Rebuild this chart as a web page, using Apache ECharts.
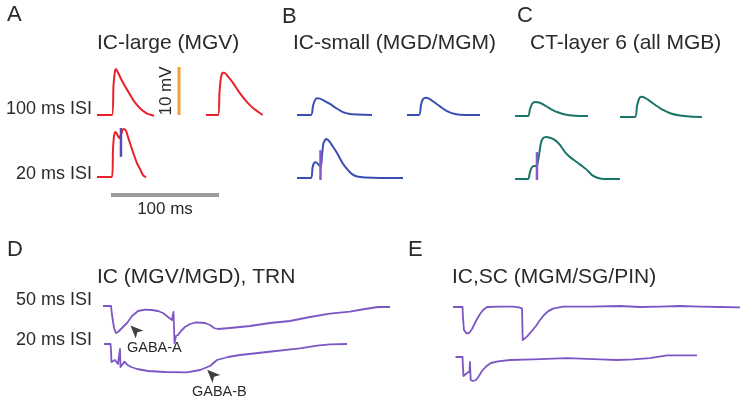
<!DOCTYPE html>
<html>
<head>
<meta charset="utf-8">
<script src="https://cdn.jsdelivr.net/npm/echarts@6/dist/echarts.min.js"></script>
<style>
html,body{margin:0;padding:0;background:#fff;}
#chart{width:750px;height:406px;}
</style>
</head>
<body>
<div id="chart"></div>
<script>
// ---------- DATA: [time (ms), voltage (mV)] ----------
// Panel A: IC-large (MGV)
const aIsi100First  = [[-13.9,0],[0,0],[1.4,6.2],[2.8,9.2],[3.7,9.6],[5.8,8.7],[10.5,6.6],[15.1,4.85],[19.7,3.1],[25.9,1.4],[32.1,0.35],[38.9,-0.15]];
const aIsi100Second = [[-11.1,0],[0,0],[1.4,4.8],[2.8,7.9],[4.6,8.8],[6.0,8.8],[8.6,8.2],[14.2,6.6],[20.4,4.5],[26.5,2.8],[32.7,1.4],[41.4,0]];
const aIsi20        = [[-13.9,0],[0,0],[0.9,5.6],[1.9,8.5],[3.2,9.4],[4.6,9.0],[6.5,8.1],[8.3,8.75],[9.7,9.8],[11.1,10],[13,9.6],[15.7,7.7],[19.4,5.2],[23.1,2.9],[25.9,1.7],[28.7,0.4],[31.5,-0.1]];
const aStim20       = [[8.3,4.2],[8.3,10.2]];
// Panel B: IC-small (MGD/MGM)
const bIsi100First  = [[-13,0],[0,0],[1.85,1.9],[3.7,3.1],[5.6,3.5],[8.3,3.4],[12,3.0],[17.6,2.3],[23.1,1.46],[29.6,0.6],[36.1,0.2],[42.6,0.1],[56.5,0]];
const bIsi100Second = [[-11.1,0],[0,0],[1.85,2.1],[3.7,3.3],[6.5,3.6],[9.3,3.4],[13.9,2.7],[19.4,1.8],[25.9,0.8],[33.3,0.2],[42.6,0],[56.5,0]];
const bIsi20        = [[-13,0],[0,0],[1.4,2.1],[2.8,3.1],[4.6,3.3],[6.5,2.9],[8.3,2.5],[9.3,2.5],[10.2,4.8],[11.6,7.3],[13.9,8.1],[16.7,7.7],[20.4,6.5],[24.1,5.2],[28.7,3.3],[33.3,1.9],[38,0.8],[42.6,0.3],[50,0.1],[63.9,0],[85.2,0]];
const bStim20       = [[8.8,-0.4],[8.8,5.8]];
// Panel C: CT-layer 6 (all MGB)
const cIsi100First  = [[-12,0],[0,0],[1.85,1.46],[3.7,2.5],[6.5,2.9],[10.2,2.8],[14.8,2.3],[20.4,1.56],[26.9,0.83],[34.3,0.3],[43.5,0.06],[55.6,0]];
const cIsi100Second = [[-13.9,0],[0,0],[1.85,2.3],[3.7,3.75],[5.6,4.2],[9.3,4.0],[13.9,3.3],[19.4,2.4],[25.9,1.46],[33.3,0.73],[41.7,0.3],[50.9,0.1],[62,0]];
const cIsi20        = [[-12,0],[0,0],[1.85,1.46],[3.7,2.5],[5.6,2.7],[8.3,2.8],[10.2,5],[12,7.5],[13.9,8.5],[16.7,8.75],[20.4,8.6],[25,8.1],[29.6,7.1],[34.3,5.6],[39.8,4.4],[45.4,3.5],[50,2.7],[54.6,1.9],[59.3,0.8],[64.8,0.2],[71.3,0],[85.2,0]];
const cStim20       = [[8.3,-0.2],[8.3,5.6]];
// Panel D: IC (MGV/MGD), TRN
const dIsi50 = [[-7.5,0],[-0.8,0],[0,-2.25],[1.7,-5.5],[3.3,-6.75],[5,-6.5],[8.3,-5.5],[12.5,-4.25],[16.7,-2.5],[21.7,-1.25],[27.5,-0.9],[33.3,-1],[38.3,-1.25],[42.5,-1.75],[46.7,-2.75],[50,-3.5],[51.25,-1.5],[52.1,-9.25],[53.3,-7.5],[55,-7.25],[57.5,-6.25],[60.8,-5.25],[65,-4.5],[70,-4.1],[77.5,-4.25],[81.7,-4.75],[85,-5.5],[88.3,-5.75],[98.3,-5.5],[115,-5],[131.7,-4.25],[148.3,-3.75],[165,-2.75],[181.7,-1.9],[198.3,-1.4],[210.8,-0.75],[221.7,-0.25],[231.7,-0.25]];
const dIsi20 = [[-5.8,0],[-0.4,0],[0,-1.5],[0.4,-4.5],[1.7,-4.75],[3.3,-4],[4.6,-4.5],[5.8,-5],[7.1,-5],[7.5,-1.25],[7.9,-5.75],[9.2,-5.25],[11.25,-4.4],[13.3,-5.1],[16.7,-5.75],[21.7,-6.25],[30.8,-6.75],[45,-7],[63.3,-7.1],[74.2,-6.5],[82.5,-5.5],[88.3,-4],[97.5,-3.25],[107.5,-2.75],[130,-2],[157.5,-1.1],[171.7,-0.4],[182.5,-0.1],[196.7,0]];
const dArrowA = [[19.2,-6]];
const dArrowB = [[84,-7.6]];
// Panel E: IC,SC (MGM/SG/PIN)
const eIsi50 = [[-8.3,0],[-0.4,0],[0,-2.75],[0.8,-5.75],[2.9,-6.6],[5,-6.5],[7.5,-5.5],[11.25,-3.25],[14.2,-1.75],[16.7,-0.75],[20,0],[30.8,0.1],[41.7,0.1],[46.7,-0.1],[49.2,-0.4],[49.75,-8.25],[50.8,-7.75],[53.3,-7.4],[57.1,-6.1],[60.8,-4.75],[64.2,-3.25],[67.5,-2],[70.8,-1.1],[75,-0.4],[83.3,0.1],[105.8,0.1],[130.8,0.25],[147.5,0],[164.2,0.1],[180.8,0.25],[197.5,0.1],[214.2,0],[230.8,-0.1]];
const eIsi20 = [[-6.25,0],[-0.4,0],[0,-2.75],[0.4,-4.75],[1.7,-5.1],[3.3,-4],[5.4,-3.6],[5.8,-1.25],[6.4,-5.75],[8.3,-6],[10.8,-5.75],[13.3,-4.75],[15.8,-3.5],[19.2,-2.4],[23.3,-1.5],[29.2,-1.1],[39.2,-0.75],[58.3,-0.6],[86.7,-0.3],[114.2,-0.6],[128.3,-0.75],[141.7,-0.6],[155.8,-0.3],[170,0.4],[195,0.4]];
// Scale bars
const timeBar = [[0,0],[100,0]];   // 100 ms
const voltBar = [[0,0],[0,10]];    // 10 mV

// ---------- LAYOUT / STYLE ----------
const TOP = {sx:1.08, sy:4.8};
const BOT = {sx:1.2, sy:4};
const RED='#e8212b', BLUE='#3a4db3', TEAL='#1b7468', PURP='#7d56c6', STIMA='#5b46b6', STIM='#8a55c8';
const FONT='"Liberation Sans", Arial, sans-serif';
const TXT='#2a2a2a';

const items = [
  {d:aIsi100First,  ox:112, oy:115, s:TOP, c:RED,  w:2, sm:0.25},
  {d:aIsi100Second, ox:218, oy:115, s:TOP, c:RED,  w:2, sm:0.25},
  {d:aIsi20,        ox:112, oy:177, s:TOP, c:RED,  w:2, sm:0.2},
  {d:aStim20,       ox:112, oy:177, s:TOP, c:STIMA,w:2.5, sm:0},
  {d:bIsi100First,  ox:311, oy:115, s:TOP, c:BLUE, w:2, sm:0.25},
  {d:bIsi100Second, ox:419, oy:115, s:TOP, c:BLUE, w:2, sm:0.25},
  {d:bIsi20,        ox:311, oy:178, s:TOP, c:BLUE, w:2, sm:0.2},
  {d:bStim20,       ox:311, oy:178, s:TOP, c:STIM, w:2.5, sm:0},
  {d:cIsi100First,  ox:528, oy:116, s:TOP, c:TEAL, w:2, sm:0.25},
  {d:cIsi100Second, ox:635, oy:117, s:TOP, c:TEAL, w:2, sm:0.25},
  {d:cIsi20,        ox:528, oy:179, s:TOP, c:TEAL, w:2, sm:0.2},
  {d:cStim20,       ox:528, oy:179, s:TOP, c:STIM, w:2.5, sm:0},
  {d:dIsi50,        ox:112, oy:306, s:BOT, c:PURP, w:1.8, sm:0},
  {d:dIsi20,        ox:111, oy:344, s:BOT, c:PURP, w:1.8, sm:0},
  {d:eIsi50,        ox:463, oy:307, s:BOT, c:PURP, w:1.8, sm:0},
  {d:eIsi20,        ox:463, oy:357, s:BOT, c:PURP, w:1.8, sm:0},
  {d:timeBar,       ox:111, oy:195, s:TOP, c:'#9b9b9b', w:4, sm:0},
  {d:voltBar,       ox:179, oy:115, s:TOP, c:'#f2a033', w:3, sm:0}
];

const grid=[], xAxis=[], yAxis=[], series=[];
items.forEach((it,i)=>{
  const ts = it.d.map(p=>p[0]), vs = it.d.map(p=>p[1]);
  const t0 = Math.floor(Math.min(...ts)) - 2, t1 = Math.ceil(Math.max(...ts)) + 2;
  const v0 = Math.floor(Math.min(...vs)) - 2, v1 = Math.ceil(Math.max(...vs)) + 2;
  grid.push({left: it.ox + t0*it.s.sx, top: it.oy - v1*it.s.sy,
             width:(t1-t0)*it.s.sx, height:(v1-v0)*it.s.sy,
             containLabel:false, outerBoundsMode:'none'});
  xAxis.push({type:'value', gridIndex:i, min:t0, max:t1, show:false});
  yAxis.push({type:'value', gridIndex:i, min:v0, max:v1, show:false});
  series.push({type:'line', xAxisIndex:i, yAxisIndex:i, data:it.d, symbol:'none',
               smooth:it.sm, clip:false, silent:true,
               lineStyle:{color:it.c, width:it.w, cap:'butt', join:'round'}});
});
// arrowheads (GABA-A on D 50ms trace grid, GABA-B on D 20ms trace grid)
const arrowPath = 'path://M0,0 L6,12 L0,9 L-6,12 Z';
series.push({type:'scatter', xAxisIndex:12, yAxisIndex:12, data:dArrowA, symbol:arrowPath,
             symbolSize:[11,13], symbolRotate:45, itemStyle:{color:'#111'}, silent:true, clip:false});
series.push({type:'scatter', xAxisIndex:13, yAxisIndex:13, data:dArrowB, symbol:arrowPath,
             symbolSize:[11,13], symbolRotate:45, itemStyle:{color:'#111'}, silent:true, clip:false});

function txt(text, x, y, size, align, rot){
  return {type:'text', x:x, y:y, rotation:rot||0, silent:true,
    style:{text:text, fill:TXT, font: size+'px '+FONT,
           align:align||'left', verticalAlign:'middle',
           textAlign:align||'left', textVerticalAlign:'middle'}};
}
const graphic = [
  txt('A', 7, 15, 22),
  txt('B', 282, 17, 22),
  txt('C', 517, 16, 22),
  txt('D', 7, 250, 22),
  txt('E', 408, 250, 22),
  txt('IC-large (MGV)', 97, 43, 21),
  txt('IC-small (MGD/MGM)', 293, 43, 21),
  txt('CT-layer 6 (all MGB)', 530, 43, 21),
  txt('IC (MGV/MGD), TRN', 97, 277, 21),
  txt('IC,SC (MGM/SG/PIN)', 452, 277, 21),
  txt('100 ms ISI', 92, 109, 18, 'right'),
  txt('20 ms ISI', 92, 174, 18, 'right'),
  txt('50 ms ISI', 92, 300, 18, 'right'),
  txt('20 ms ISI', 92, 340, 18, 'right'),
  txt('10 mV', 166, 91, 17, 'center', Math.PI/2),
  txt('100 ms', 165, 209, 17, 'center'),
  txt('GABA-A', 127, 348, 14.5),
  txt('GABA-B', 192, 392, 14.5)
];

const chart = echarts.init(document.getElementById('chart'), null, {renderer:'canvas'});
chart.setOption({animation:false, backgroundColor:'#fff', grid, xAxis, yAxis, series, graphic});
</script>
</body>
</html>
